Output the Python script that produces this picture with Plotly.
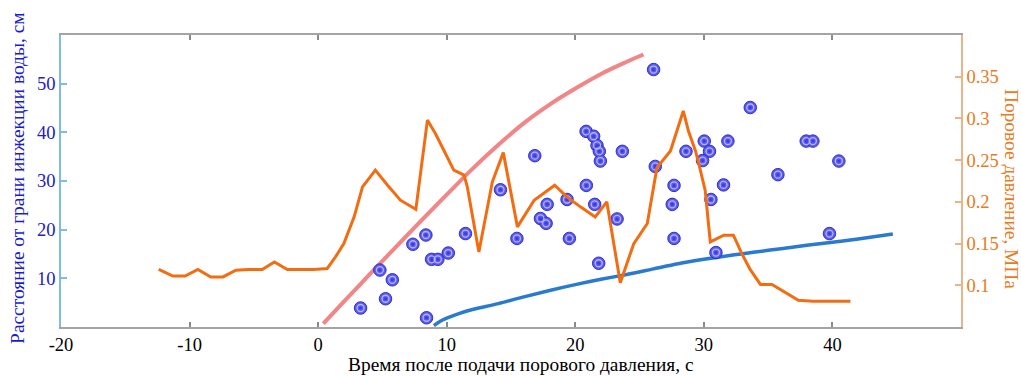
import plotly.graph_objects as go

# Pore pressure record (right axis, MPa) vs time after pressure application, s
pressure_t = [-12.4, -11.3, -10.35, -9.35, -8.35, -7.4, -6.4, -5.4, -4.35, -3.4,
              -2.4, -1.35, -0.35, 0.7, 1.35, 2.0, 2.8, 3.45, 4.45, 5.4, 6.4, 7.6,
              8.5, 9.15, 10.55, 11.35, 11.6, 12.5, 13.55, 14.4, 15.1, 15.5, 16.8,
              18.4, 19.35, 20.4, 21.55, 22.45, 23.5, 24.55, 25.6, 26.35, 27.4,
              28.4, 28.8, 29.35, 29.6, 30.1, 30.5, 31.55, 32.3, 32.95, 33.6,
              34.4, 35.3, 35.95, 37.35, 38.5, 41.4]
pressure_mpa = [0.119, 0.111, 0.111, 0.119, 0.110, 0.110, 0.118, 0.119, 0.119, 0.128,
                0.119, 0.119, 0.119, 0.120, 0.134, 0.150, 0.182, 0.218, 0.238, 0.220,
                0.202, 0.191, 0.298, 0.281, 0.238, 0.232, 0.218, 0.140, 0.224, 0.259,
                0.202, 0.170, 0.202, 0.220, 0.206, 0.194, 0.182, 0.200, 0.103, 0.150,
                0.174, 0.241, 0.261, 0.309, 0.285, 0.261, 0.246, 0.214, 0.152, 0.160,
                0.160, 0.138, 0.119, 0.101, 0.101, 0.095, 0.082, 0.081, 0.081]

# Upper front curve (left axis, cm)
upper_t = [0.4, 2, 4, 6, 8, 10, 12, 14, 16, 18, 20, 22, 24, 25.3]
upper_cm = [0.7, 5.2, 10.8, 16.3, 21.8, 27.2, 32.5, 37.4, 41.9, 45.7, 49.0, 52.0, 54.5, 56.0]

# Lower front curve (left axis, cm)
lower_t = [9.0, 9.5, 10, 11, 12, 14, 16, 18, 20, 22, 24, 26, 28, 30, 32, 34, 36, 38,
           40, 42, 44.7]
lower_cm = [0.3, 1.2, 1.8, 2.8, 3.6, 4.8, 6.2, 7.5, 8.7, 9.8, 10.8, 11.9, 13.0, 13.9,
            14.7, 15.4, 16.1, 16.8, 17.4, 18.1, 19.1]

# Measured event locations
event_t = [3.30, 4.80, 5.77, 5.24, 7.37, 8.38, 8.43, 8.82, 9.31, 10.12, 11.46, 14.18,
           15.46, 16.85, 17.29, 17.73, 17.81, 19.36, 19.54, 20.84, 21.43, 21.69, 21.87,
           21.95, 20.86, 21.51, 21.82, 23.25, 23.66, 26.09, 26.22, 27.68, 27.54, 27.68,
           28.61, 33.61, 30.03, 30.44, 29.90, 31.87, 31.53, 30.55, 30.94, 35.76, 37.96,
           38.48, 40.50, 39.77]
event_cm = [3.9, 11.7, 9.7, 5.8, 17.0, 18.9, 1.9, 13.9, 13.9, 15.2, 19.2, 28.2,
            18.2, 35.2, 22.3, 21.3, 25.2, 26.2, 18.2, 40.2, 39.2, 37.3, 36.1,
            34.1, 29.1, 25.2, 13.1, 22.2, 36.1, 52.9, 33.0, 29.1, 25.2, 18.2,
            36.1, 45.1, 38.2, 36.1, 34.2, 38.2, 29.2, 26.2, 15.3, 31.3, 38.2,
            38.2, 34.1, 19.2]

x_ticks = [-20, -10, 0, 10, 20, 30, 40]
y_ticks = [10, 20, 30, 40, 50]
y2_ticks = [0.1, 0.15, 0.2, 0.25, 0.3, 0.35]

SERIF = "Liberation Serif, Times New Roman, serif"
BLUE_TXT = "#2020c8"
ORANGE_TXT = "#e87a22"
TICK_SIZE = 18.5
TITLE_SIZE = 19.4

fig = go.Figure()

fig.add_trace(go.Scatter(
    x=upper_t, y=upper_cm, mode="lines", line=dict(color="#f28585", width=4, shape="spline"),
    hoverinfo="skip", showlegend=False))
fig.add_trace(go.Scatter(
    x=lower_t, y=lower_cm, mode="lines", line=dict(color="#2a7bd0", width=3.5, shape="spline"),
    hoverinfo="skip", showlegend=False))

# double-ringed event markers
fig.add_trace(go.Scatter(
    x=event_t, y=event_cm, mode="markers",
    marker=dict(size=12.5, color="#5a5af0", line=dict(color="#3030c8", width=1)),
    showlegend=False))
fig.add_trace(go.Scatter(
    x=event_t, y=event_cm, mode="markers",
    marker=dict(size=7, symbol="circle-open", color="#b4b4ff", line=dict(width=1.3)),
    hoverinfo="skip", showlegend=False))
fig.add_trace(go.Scatter(
    x=event_t, y=event_cm, mode="markers",
    marker=dict(size=3, color="#3c3ce0"),
    hoverinfo="skip", showlegend=False))

fig.add_trace(go.Scatter(
    x=pressure_t, y=pressure_mpa, yaxis="y2", mode="lines",
    line=dict(color="#f26d12", width=3), showlegend=False))

fig.update_layout(
    width=1021, height=376,
    margin=dict(l=61, r=60, t=35, b=49),
    paper_bgcolor="white", plot_bgcolor="white",
    font=dict(family=SERIF, size=TICK_SIZE, color="black"),
    xaxis=dict(
        range=[-20, 50], tickvals=x_ticks, ticktext=[str(v) for v in x_ticks],
        showgrid=False, zeroline=False, showline=True, linecolor="#a4a4a4", linewidth=1.5,
        mirror="ticks", ticks="inside", ticklen=5, tickcolor="#8a8a8a", tickwidth=1.5,
        tickfont=dict(family=SERIF, size=TICK_SIZE, color="black"),
    ),
    yaxis=dict(
        range=[0, 60], tickvals=y_ticks, ticktext=[str(v) for v in y_ticks],
        showgrid=False, zeroline=False, showline=True, linecolor="#7fbde0", linewidth=1.5,
        ticks="inside", ticklen=6, tickcolor="#7fbde0", tickwidth=1.5,
        tickfont=dict(family=SERIF, size=TICK_SIZE, color=BLUE_TXT),
    ),
    yaxis2=dict(
        range=[0.05, 0.4], overlaying="y", side="right",
        tickvals=y2_ticks, ticktext=["0.1", "0.15", "0.2", "0.25", "0.3", "0.35"],
        showgrid=False, zeroline=False, showline=True, linecolor="#e8b48c", linewidth=1.5,
        ticks="inside", ticklen=6, tickcolor="#e8b48c", tickwidth=1.5,
        tickfont=dict(family=SERIF, size=TICK_SIZE, color=ORANGE_TXT),
    ),
    annotations=[
        dict(text="Время после подачи порового давления, с", xref="paper", yref="paper",
             x=(521 - 61) / 900, y=0, yshift=-37, xanchor="center", yanchor="middle",
             showarrow=False, font=dict(family=SERIF, size=TITLE_SIZE, color="black")),
        dict(text="Расстояние от грани инжекции воды, см", xref="paper", yref="paper",
             x=0, xshift=-43, y=(327.5 - 179) / 292.8, textangle=-90,
             xanchor="center", yanchor="middle", showarrow=False,
             font=dict(family=SERIF, size=TITLE_SIZE, color="#1a1ad0")),
        dict(text="Поровое давление, МПа", xref="paper", yref="paper",
             x=1, xshift=50, y=(327.5 - 189) / 292.8, textangle=90,
             xanchor="center", yanchor="middle", showarrow=False,
             font=dict(family=SERIF, size=TITLE_SIZE, color=ORANGE_TXT)),
    ],
)

fig.write_html("out.html")
